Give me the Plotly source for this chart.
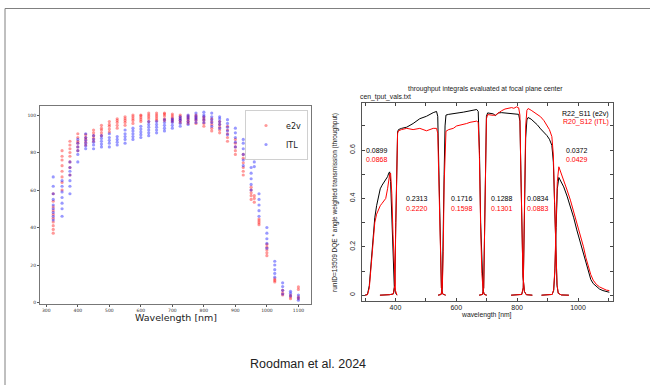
import plotly.graph_objects as go

W, H = 650, 385

# ---------------- left panel: QE scatter ----------------
qe_wl = [322, 350, 375, 400, 425, 450, 475, 500, 525, 550, 575, 600, 625, 650, 675,
         700, 725, 750, 775, 800, 825, 850, 875, 900, 925, 950, 960, 975, 1000, 1025,
         1050, 1075, 1100]

qe_e2v = [
    [37, 39, 41, 43, 45, 47, 49, 51, 54, 58],
    [60, 64, 67, 70, 73, 76, 78, 81],
    [68, 72, 75, 78, 80, 82, 84, 86],
    [81, 83, 85, 86, 88, 90],
    [84, 85.5, 87, 88, 89.5],
    [86, 87.5, 89, 90.5, 92],
    [89, 90.5, 92, 93, 94.5],
    [91, 92.5, 94, 95, 96.5],
    [93, 94.5, 96, 97, 98],
    [94.5, 96, 97, 98, 99],
    [95.5, 97, 98, 99, 100],
    [96.5, 97.5, 98.5, 99.5, 100],
    [96.5, 98, 99, 100, 101],
    [97, 98, 99, 100, 101],
    [97, 98, 99.5, 100.5, 101],
    [96.5, 97.5, 98.5, 99.5, 100.5],
    [96, 97, 98, 99, 100],
    [95.5, 96.5, 97.5, 98.5, 99.5],
    [95.5, 97, 98, 99, 100],
    [94, 95.5, 97, 98, 99],
    [91.5, 93, 95, 96.5, 98],
    [90.5, 92, 93.5, 95, 96.5],
    [86, 88, 90, 92, 94],
    [79, 81, 83, 85, 87],
    [68, 70, 72, 74.5, 77, 79],
    [55, 57, 58.5, 60, 61.5],
    [53.5, 55.5, 57],
    [41.5, 42.5, 43.5, 44.5],
    [25, 26.5, 28, 29.5, 31],
    [11, 11.8, 12.6],
    [4, 5, 6.5],
    [2, 3, 4],
    [2, 3, 7, 8.3],
]

qe_itl = [
    [44, 46, 48, 50, 52, 55, 58, 62, 67],
    [46, 50, 53, 56, 59, 62, 65],
    [58, 62, 65, 68, 70, 72, 75],
    [75, 79, 81, 83, 85, 87],
    [82, 83.5, 85, 86.5, 88, 90],
    [82, 84, 85.5, 87, 89],
    [83, 84.5, 86, 87.5, 89],
    [83, 85, 86.5, 88, 90],
    [84, 85.5, 87, 88.5],
    [85, 87, 88.5, 90, 92],
    [87, 88.5, 90, 91.5, 93],
    [88, 89.5, 91, 92.5, 94],
    [89, 90.5, 92, 93.5, 95, 96.5],
    [90.5, 92, 93.5, 95, 96.5],
    [91.5, 93, 94.5, 96, 97.5],
    [93, 94.5, 96, 97, 98],
    [94, 95.5, 97, 98, 99],
    [95, 96.5, 98, 99, 100],
    [96, 97.5, 98.5, 99.5, 101],
    [96, 97.5, 99, 100, 101.5],
    [94, 96, 97.5, 99, 101],
    [93, 95, 96.5, 98, 99],
    [89.5, 91.5, 93.5, 95.5, 97.5],
    [83, 85.5, 88, 90.5, 93],
    [73, 76, 79, 82, 85, 87],
    [60, 63, 66, 69, 72],
    [72.5, 75],
    [46, 49, 52, 55, 58],
    [29, 31.5, 34, 37, 40],
    [13.5, 15.5, 17.5, 20, 22],
    [4.5, 6.5, 8.5, 10.5],
    [3.5, 5, 6],
    [1.2, 2.5, 4],
]

# ---------------- right panel: throughput curves ----------------
u_wl = [300, 308, 314, 320, 326, 332, 338, 344, 350, 356, 362, 368, 374, 378, 381, 384, 388, 392, 396, 400, 405]
u_e2v = [0, 0.003, 0.04, 0.14, 0.25, 0.32, 0.37, 0.41, 0.44, 0.455, 0.465, 0.475, 0.49, 0.505, 0.51, 0.47, 0.3, 0.13, 0.04, 0.01, 0]
u_itl = [0, 0.002, 0.03, 0.12, 0.23, 0.30, 0.335, 0.355, 0.37, 0.38, 0.39, 0.40, 0.44, 0.48, 0.50, 0.505, 0.42, 0.25, 0.09, 0.02, 0]

g_wl = [349, 360, 380, 393, 398, 401, 404, 407, 410, 420, 437, 458, 480, 502, 524, 535, 539, 542, 545, 548, 551, 555, 565]
g_e2v = [0, 0, 0.002, 0.005, 0.05, 0.3, 0.6, 0.675, 0.685, 0.69, 0.695, 0.71, 0.73, 0.74, 0.755, 0.76, 0.74, 0.55, 0.3, 0.12, 0.03, 0.005, 0]
g_itl = [0, 0, 0.002, 0.005, 0.04, 0.28, 0.58, 0.67, 0.68, 0.685, 0.69, 0.685, 0.69, 0.68, 0.69, 0.69, 0.67, 0.5, 0.28, 0.11, 0.03, 0.005, 0]

r_wl = [540, 550, 554, 557, 560, 563, 566, 575, 590, 601, 612, 623, 634, 645, 656, 667, 672, 676, 680, 684, 688, 692, 700]
r_e2v = [0, 0.003, 0.03, 0.2, 0.5, 0.7, 0.745, 0.748, 0.752, 0.754, 0.755, 0.757, 0.76, 0.762, 0.765, 0.768, 0.76, 0.6, 0.3, 0.1, 0.02, 0.003, 0]
r_itl = [0, 0.003, 0.03, 0.18, 0.46, 0.64, 0.678, 0.685, 0.69, 0.70, 0.703, 0.705, 0.71, 0.715, 0.718, 0.72, 0.715, 0.57, 0.28, 0.09, 0.02, 0.003, 0]

i_wl = [675, 686, 690, 693, 696, 699, 703, 712, 721, 729, 738, 749, 760, 771, 782, 789, 798, 805, 809, 812, 815, 819, 824, 830, 850]
i_e2v = [0, 0.003, 0.03, 0.25, 0.6, 0.74, 0.754, 0.752, 0.75, 0.743, 0.754, 0.755, 0.754, 0.753, 0.752, 0.752, 0.751, 0.748, 0.72, 0.5, 0.25, 0.08, 0.015, 0.002, 0]
i_itl = [0, 0.003, 0.03, 0.24, 0.58, 0.73, 0.747, 0.745, 0.744, 0.745, 0.754, 0.763, 0.77, 0.773, 0.776, 0.773, 0.779, 0.775, 0.745, 0.52, 0.26, 0.08, 0.015, 0.002, 0]

z_wl = [780, 800, 815, 820, 824, 828, 832, 836, 846, 856, 866, 877, 888, 898, 906, 914, 919, 923, 927, 931, 935, 945, 970]
z_e2v = [0, 0, 0.003, 0.03, 0.3, 0.65, 0.725, 0.735, 0.728, 0.718, 0.705, 0.688, 0.675, 0.66, 0.645, 0.62, 0.55, 0.35, 0.15, 0.04, 0.008, 0.001, 0]
z_itl = [0, 0, 0.003, 0.03, 0.32, 0.70, 0.765, 0.772, 0.765, 0.757, 0.748, 0.738, 0.722, 0.704, 0.685, 0.656, 0.58, 0.38, 0.16, 0.045, 0.008, 0.001, 0]

y_wl = [880, 900, 915, 920, 924, 928, 932, 937, 945, 953, 964, 975, 986, 996, 1007, 1018, 1026, 1034, 1042, 1050, 1060, 1071, 1082, 1093, 1103]
y_e2v = [0, 0, 0.003, 0.02, 0.1, 0.28, 0.44, 0.487, 0.47, 0.448, 0.41, 0.366, 0.32, 0.27, 0.22, 0.173, 0.13, 0.09, 0.065, 0.048, 0.035, 0.025, 0.019, 0.014, 0.012]
y_itl = [0, 0, 0.003, 0.022, 0.11, 0.3, 0.47, 0.531, 0.505, 0.476, 0.435, 0.393, 0.345, 0.297, 0.248, 0.2, 0.155, 0.117, 0.085, 0.062, 0.045, 0.034, 0.027, 0.021, 0.019]

band_center_wl = [340, 470, 618, 749, 868, 998]
band_int_e2v = ["0.0899", "0.2313", "0.1716", "0.1288", "0.0834", "0.0372"]
band_int_itl = ["0.0868", "0.2220", "0.1598", "0.1301", "0.0883", "0.0429"]

# ---------------- figure ----------------
fig = go.Figure()

ex = [w for w, vals in zip(qe_wl, qe_e2v) for v in vals]
ey = [v for w, vals in zip(qe_wl, qe_e2v) for v in vals]
ix = [w for w, vals in zip(qe_wl, qe_itl) for v in vals]
iy = [v for w, vals in zip(qe_wl, qe_itl) for v in vals]

fig.add_trace(go.Scatter(x=ex, y=ey, mode="markers", name="e2v",
                         marker=dict(color="rgba(255,0,0,0.4)", size=3.2),
                         xaxis="x", yaxis="y"))
fig.add_trace(go.Scatter(x=ix, y=iy, mode="markers", name="ITL",
                         marker=dict(color="rgba(0,0,255,0.4)", size=3.2),
                         xaxis="x", yaxis="y"))

bands = [(u_wl, u_e2v, u_itl), (g_wl, g_e2v, g_itl), (r_wl, r_e2v, r_itl),
         (i_wl, i_e2v, i_itl), (z_wl, z_e2v, z_itl), (y_wl, y_e2v, y_itl)]
for wl, e, _ in bands:
    fig.add_trace(go.Scatter(x=wl, y=e, mode="lines", line=dict(color="black", width=1),
                             showlegend=False, xaxis="x2", yaxis="y2", hoverinfo="skip"))
for wl, _, it in bands:
    fig.add_trace(go.Scatter(x=wl, y=it, mode="lines", line=dict(color="#ff0000", width=1),
                             showlegend=False, xaxis="x2", yaxis="y2", hoverinfo="skip"))

def px(x):
    return x / W

def py(y):
    return 1 - y / H

mpl_font = "DejaVu Sans"
gp_font = "Liberation Sans, Arial"

fig.update_layout(
    template="none",
    width=W, height=H,
    margin=dict(l=0, r=0, t=0, b=0, pad=0),
    paper_bgcolor="white", plot_bgcolor="white",
    xaxis=dict(domain=[px(40), px(311)], range=[280, 1140], anchor="y", automargin=False,
               tick0=0, dtick=100, ticks="outside", ticklen=2, tickwidth=0.8, tickcolor="#555",
               showline=True, linecolor="#777", linewidth=1, mirror=True,
               showgrid=False, zeroline=False,
               tickfont=dict(family=mpl_font, size=4.5, color="#333")),
    yaxis=dict(domain=[py(304), py(106)], range=[-0.8, 104.8], anchor="x", automargin=False,
               tick0=0, dtick=20, ticks="outside", ticklen=2, tickwidth=0.8, tickcolor="#555",
               showline=True, linecolor="#777", linewidth=1, mirror=True,
               showgrid=False, zeroline=False,
               tickfont=dict(family=mpl_font, size=4.5, color="#333")),
    xaxis2=dict(domain=[px(362.3), px(613)], range=[291, 1115], anchor="y2", automargin=False,
                tick0=0, dtick=200, ticks="inside", ticklen=3, tickwidth=0.8, tickcolor="#444",
                minor=dict(dtick=100, tick0=0, ticks="inside", ticklen=3, tickwidth=0.8, tickcolor="#444"),
                showline=True, linecolor="#555", linewidth=1, mirror="allticks",
                showgrid=False, zeroline=False,
                tickfont=dict(family=gp_font, size=7, color="#222")),
    yaxis2=dict(domain=[py(300.5), py(102.5)], range=[-0.022, 0.797], anchor="x2", automargin=False,
                tick0=0, dtick=0.2, ticks="inside", ticklen=3, tickwidth=0.8, tickcolor="#444",
                minor=dict(dtick=0.1, tick0=0, ticks="inside", ticklen=3, tickwidth=0.8, tickcolor="#444"),
                showline=True, linecolor="#555", linewidth=1, mirror="allticks",
                showgrid=False, zeroline=False, tickangle=-90, ticklabelstandoff=4,
                tickfont=dict(family=gp_font, size=7, color="#222")),
    showlegend=True,
    legend=dict(x=px(308), y=py(110), xanchor="right", yanchor="top",
                bgcolor="rgba(255,255,255,0.9)", bordercolor="#d0d0d0", borderwidth=1,
                font=dict(family=mpl_font, size=8, color="#222"),
                itemwidth=30, tracegroupgap=0, itemsizing="trace"),
)

def note(text, x, y, size, color="#222", family=gp_font, xanchor="center", xref="paper",
         yref="paper", **kw):
    return dict(text=text, x=x, y=y, xref=xref, yref=yref, xanchor=xanchor, yanchor="middle",
                showarrow=False, font=dict(family=family, size=size, color=color), **kw)

ann = []
ann.append(note("Wavelength [nm]", px(176), py(317), 9.5, family=mpl_font))
ann.append(note("throughput integrals evaluated at focal plane center", px(485), py(89.3), 6.8))
ann.append(note("cen_tput_vals.txt", px(358.3), py(97.3), 6.8, xanchor="left"))
ann.append(note("wavelength [nm]", px(486), py(315), 6.8))
ann.append(note("runID=13509 DQE * angle weighted transmission (throughput)",
                px(335), py(202), 6.5, textangle=-90))
ann.append(note("R22_S11 (e2v)", px(611), py(114), 7, color="black", xanchor="right"))
ann.append(note("R20_S12 (ITL)", px(611), py(122.3), 7, color="#ff0000", xanchor="right"))
label_y_top = [0.6, 0.4, 0.4, 0.4, 0.4, 0.6]
for xc, yt, te, ti in zip(band_center_wl, label_y_top, band_int_e2v, band_int_itl):
    ann.append(note(te, xc, yt, 7, color="black", xref="x2", yref="y2"))
    ann.append(note(ti, xc, yt - 0.04, 7, color="#ff0000", xref="x2", yref="y2"))
ann.append(note("Roodman et al. 2024", px(308), py(364), 12.5))
fig.update_layout(annotations=ann)

# slide frame lines
fig.update_layout(shapes=[
    dict(type="line", xref="paper", yref="paper", x0=px(5), x1=1, y0=py(8.5), y1=py(8.5),
         line=dict(color="#808080", width=1)),
    dict(type="line", xref="paper", yref="paper", x0=px(5), x1=px(5), y0=py(8.5), y1=0,
         line=dict(color="#808080", width=1)),
])

fig.write_html("out.html", config={"displayModeBar": False},
               post_script="document.body.style.margin='0px';document.body.style.overflow='hidden';")
